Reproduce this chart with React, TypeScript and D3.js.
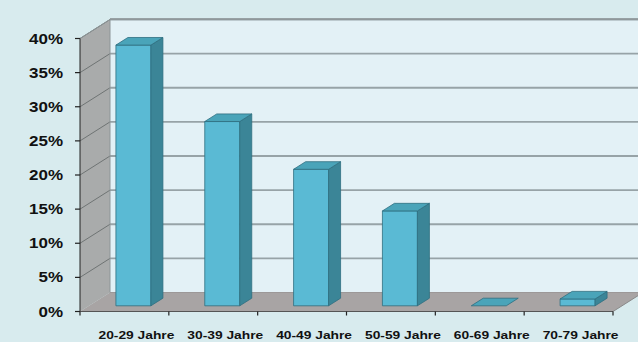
import React from "react";
import * as d3 from "d3";

const categories = ["20-29 Jahre", "30-39 Jahre", "40-49 Jahre", "50-59 Jahre", "60-69 Jahre", "70-79 Jahre"];
const values = [38.2, 27.0, 20.0, 13.9, 0, 1.0];
const yTicks = [0, 5, 10, 15, 20, 25, 30, 35, 40];
const yTickLabels = ["0%", "5%", "10%", "15%", "20%", "25%", "30%", "35%", "40%"];

const W = 638, H = 342;
const x0 = 80, x1 = 613;
const y0 = 311.5, yTop = 38.5;
const DX = 30, DY = -19;
const k = DY / DX;

export default function App() {
  const x = d3.scaleBand<string>().domain(categories).range([x0, x1]).paddingInner(0).paddingOuter(0);
  const y = d3.scaleLinear().domain([0, 40]).range([y0, yTop]);
  const bw = x.bandwidth();
  const barW = 35;
  const dFront = 9, dBar = 12;

  const pts = (arr: [number, number][]) => arr.map(p => p.join(",")).join(" ");
  const sx = 1.17;

  return (
    <svg width={W} height={H} style={{ position: "absolute", left: 0, top: 0, background: "#d8ebee" }}
      fontFamily="Arial, 'Liberation Sans', sans-serif" fontWeight="bold">
      <rect x={0} y={0} width={W} height={H} fill="#d8ebee" />
      {/* back wall */}
      <rect x={x0 + DX} y={yTop + DY} width={W - (x0 + DX) + 2} height={y0 - yTop} fill="#e3f1f6" />
      {/* left wall */}
      <polygon points={pts([[x0, yTop], [x0 + DX, yTop + DY], [x0 + DX, y0 + DY], [x0, y0]])} fill="#a9abab" />
      {/* floor */}
      <polygon points={pts([[x0, y0], [x1, y0], [x1 + DX, y0 + DY], [x0 + DX, y0 + DY]])} fill="#a8a4a4" />
      {/* gridlines */}
      {yTicks.map((t, i) => (
        <g key={"g" + i}>
          {t > 0 && <line x1={x0 + DX} x2={W} y1={y(t) + DY} y2={y(t) + DY} stroke="#97a3a7" strokeWidth={1.8} />}
          {t > 0 && <line x1={x0} x2={x0 + DX} y1={y(t)} y2={y(t) + DY} stroke="#6f7474" strokeWidth={1} />}
        </g>
      ))}
      {/* back wall frame */}
      <line x1={x0 + DX} x2={W} y1={yTop + DY - 0.5} y2={yTop + DY - 0.5} stroke="#8d9597" strokeWidth={1.5} />
      <line x1={x0 + DX} x2={x0 + DX} y1={yTop + DY} y2={y0 + DY} stroke="#8d9597" strokeWidth={1} />
      <line x1={x0} x2={x0 + DX} y1={yTop} y2={yTop + DY} stroke="#8d9597" strokeWidth={1} />
      <line x1={x0 + DX} x2={W} y1={y0 + DY} y2={y0 + DY} stroke="#9c9898" strokeWidth={1} />
      {/* bars */}
      {categories.map((c, i) => {
        const v = values[i];
        const bx = (x(c) as number) + (bw - barW) / 2 + dFront;
        const by0 = y0 + dFront * k;
        const byt = y(v) + dFront * k;
        const ox = dBar, oy = dBar * k;
        return (
          <g key={c} stroke="#2f6f80" strokeWidth={0.8} strokeLinejoin="round">
            {byt < by0 - 0.1 && <rect x={bx} y={byt} width={barW} height={by0 - byt} fill="#5abad4" />}
            {byt < by0 - 0.1 && <polygon points={pts([[bx + barW, byt], [bx + barW + ox, byt + oy], [bx + barW + ox, by0 + oy], [bx + barW, by0]])} fill="#3b8597" />}
            <polygon points={pts([[bx, byt], [bx + ox, byt + oy], [bx + barW + ox, byt + oy], [bx + barW, byt]])} fill="#4aa4b9" />
          </g>
        );
      })}
      {/* axes */}
      <line x1={x0} x2={x0} y1={yTop} y2={y0} stroke="#222" strokeWidth={1} />
      <line x1={x0} x2={x1} y1={y0} y2={y0} stroke="#555" strokeWidth={1.2} />
      <line x1={x1} x2={x1 + DX} y1={y0} y2={y0 + DY} stroke="#8a8a8a" strokeWidth={1} />
      {yTicks.map((t, i) => (
        <g key={"t" + i}>
          <line x1={x0 - 5} x2={x0} y1={y(t)} y2={y(t)} stroke="#222" strokeWidth={1.2} />
          <text transform={`translate(63,${y(t) + 5}) scale(${sx},1)`} textAnchor="end" fontSize={14.5} fill="#111">{yTickLabels[i]}</text>
        </g>
      ))}
      {categories.map((c, i) => (
        <g key={"xt" + i}>
          <line x1={(x(c) as number) + bw} x2={(x(c) as number) + bw} y1={y0} y2={y0 + 4} stroke="#222" strokeWidth={1.2} />
          <text transform={`translate(${(x(c) as number) + bw / 2 + 12},339) scale(${sx},1)`} textAnchor="middle" fontSize={11.8} fill="#111">{c}</text>
        </g>
      ))}
      <line x1={x0} x2={x0} y1={y0} y2={y0 + 4} stroke="#222" strokeWidth={1.2} />
    </svg>
  );
}
